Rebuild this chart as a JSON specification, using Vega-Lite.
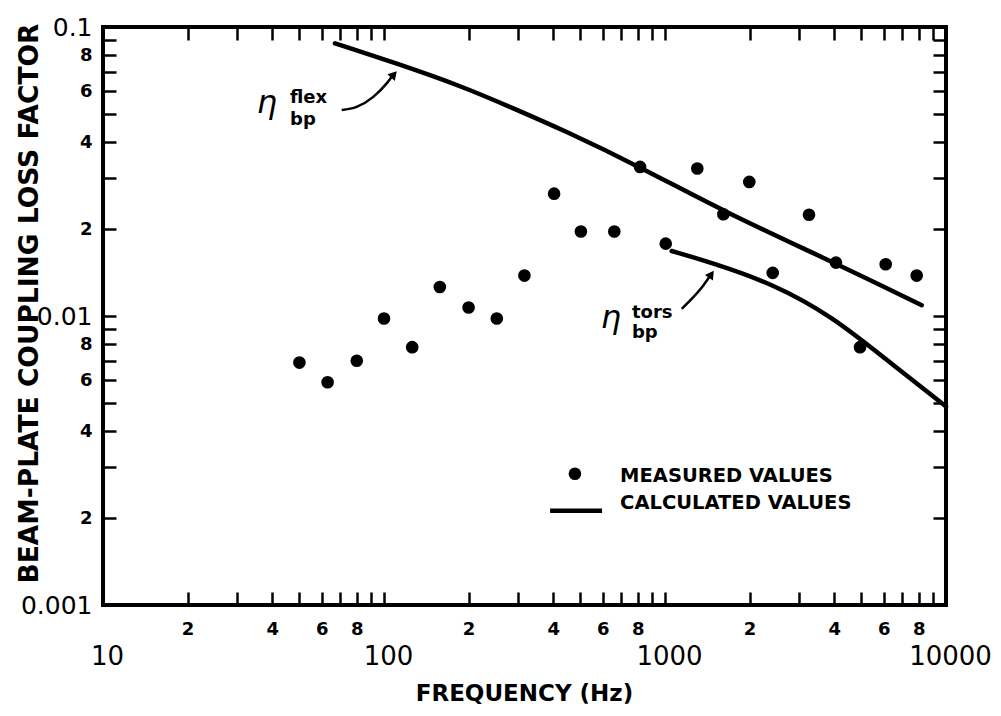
{
  "$schema": "https://vega.github.io/schema/vega-lite/v6.json",
  "width": 843,
  "height": 578,
  "autosize": "none",
  "padding": {"left": 103, "top": 27, "right": 55, "bottom": 111},
  "background": "white",
  "config": {
    "view": {"stroke": "black", "strokeWidth": 4},
    "font": "DejaVu Sans",
    "axis": {"grid": false, "domain": false, "tickColor": "black", "labelColor": "black", "titleColor": "black"}
  },
  "datasets": {
    "pts": [
      {"f": 50, "v": 0.0069}, {"f": 63, "v": 0.0059}, {"f": 80, "v": 0.0070}, {"f": 100, "v": 0.0098},
      {"f": 126, "v": 0.0078}, {"f": 158, "v": 0.0126}, {"f": 200, "v": 0.0107}, {"f": 252, "v": 0.0098},
      {"f": 316, "v": 0.0138}, {"f": 403, "v": 0.0265}, {"f": 502, "v": 0.0196}, {"f": 660, "v": 0.0196},
      {"f": 815, "v": 0.0328}, {"f": 1006, "v": 0.0178}, {"f": 1303, "v": 0.0324}, {"f": 1613, "v": 0.0225},
      {"f": 1995, "v": 0.0291}, {"f": 2417, "v": 0.0141}, {"f": 3254, "v": 0.0224}, {"f": 4059, "v": 0.0153},
      {"f": 4943, "v": 0.0078}, {"f": 6101, "v": 0.0151}, {"f": 7865, "v": 0.0138}
    ],
    "curves": [
      {"c": "flex", "f": 66.9, "v": 0.0878}, {"c": "flex", "f": 111, "v": 0.0748}, {"c": "flex", "f": 191.5, "v": 0.0621},
      {"c": "flex", "f": 288.5, "v": 0.0523}, {"c": "flex", "f": 434.6, "v": 0.0440}, {"c": "flex", "f": 815, "v": 0.0328},
      {"c": "flex", "f": 1613, "v": 0.0230}, {"c": "flex", "f": 4059, "v": 0.0152}, {"c": "flex", "f": 8195, "v": 0.0109},
      {"c": "tors", "f": 1056, "v": 0.01678}, {"c": "tors", "f": 1446, "v": 0.01536}, {"c": "tors", "f": 2429, "v": 0.01293},
      {"c": "tors", "f": 3972, "v": 0.0099}, {"c": "tors", "f": 5983, "v": 0.0072}, {"c": "tors", "f": 10000, "v": 0.00486}
    ],
    "arrows": [
      {"a": "flex", "f": 70.7, "v": 0.0516}, {"a": "flex", "f": 79.9, "v": 0.0529}, {"a": "flex", "f": 91.6, "v": 0.0573},
      {"a": "flex", "f": 102.2, "v": 0.0638}, {"a": "flex", "f": 108, "v": 0.0685},
      {"a": "tors", "f": 1147, "v": 0.01059}, {"a": "tors", "f": 1261, "v": 0.01162}, {"a": "tors", "f": 1369, "v": 0.01276},
      {"a": "tors", "f": 1450, "v": 0.0138}
    ],
    "heads": [
      {"a": "flex", "f": 108.5, "v": 0.0685},
      {"a": "tors", "f": 1462, "v": 0.01395}
    ],
    "eta": [
      {"f": 38.3, "v": 0.0503, "t": "η"},
      {"f": 642, "v": 0.00912, "t": "η"}
    ],
    "scripts": [
      {"f": 46.3, "v": 0.0545, "t": "flex"},
      {"f": 46.3, "v": 0.0457, "t": "bp"},
      {"f": 763, "v": 0.00988, "t": "tors"},
      {"f": 763, "v": 0.00842, "t": "bp"}
    ],
    "legdot": [{"f": 478, "v": 0.002845}],
    "legline": [{"f": 390, "v": 0.002117}, {"f": 597, "v": 0.002117}],
    "legtext": [
      {"f": 692, "v": 0.0028, "t": "MEASURED VALUES"},
      {"f": 692, "v": 0.002257, "t": "CALCULATED VALUES"}
    ]
  },
  "encoding": {
    "x": {"field": "f", "type": "quantitative", "scale": {"type": "log", "domain": [10, 10000], "nice": false}, "axis": null},
    "y": {"field": "v", "type": "quantitative", "scale": {"type": "log", "domain": [0.001, 0.1], "nice": false}, "axis": null}
  },
  "resolve": {"axis": {"x": "independent", "y": "independent"}},
  "layer": [
    {
      "data": {"name": "pts"},
      "mark": {"type": "point", "filled": true, "shape": "circle", "size": 160, "color": "black", "opacity": 1},
      "encoding": {
        "x": {
          "field": "f", "type": "quantitative",
          "scale": {"type": "log", "domain": [10, 10000], "nice": false},
          "axis": {
            "orient": "bottom",
            "values": [10, 20, 30, 40, 50, 60, 70, 80, 90, 100, 200, 300, 400, 500, 600, 700, 800, 900, 1000, 2000, 3000, 4000, 5000, 6000, 7000, 8000, 9000, 10000],
            "labelExpr": "indexof([10,100,1000,10000], datum.value) >= 0 ? format(datum.value, 'd') : (indexof([20,40,60,80,200,400,600,800,2000,4000,6000,8000], datum.value) >= 0 ? substring(format(datum.value, 'd'), 0, 1) : '')",
            "labelFontSize": {"condition": {"test": "indexof([10,100,1000,10000], datum.value) >= 0", "value": 26}, "value": 18},
            "labelFontWeight": {"condition": {"test": "indexof([10,100,1000,10000], datum.value) >= 0", "value": "normal"}, "value": "bold"},
            "labelPadding": {"condition": {"test": "indexof([10,100,1000,10000], datum.value) >= 0", "value": 51}, "value": 28},
            "labelOffset": {"condition": {"test": "indexof([10,100,1000,10000], datum.value) >= 0", "value": 4}, "value": 0},
            "labelBaseline": "top",
            "labelOverlap": false,
            "labelFlush": false,
            "labelBound": false,
            "tickSize": -13,
            "tickWidth": 2.5,
            "title": "FREQUENCY (Hz)",
            "titleFontSize": 23,
            "titleFontWeight": "bold",
            "titleX": 421,
            "titleY": 95,
            "titleAlign": "center",
            "titleBaseline": "alphabetic"
          }
        },
        "y": {
          "field": "v", "type": "quantitative",
          "scale": {"type": "log", "domain": [0.001, 0.1], "nice": false},
          "axis": {
            "orient": "left",
            "values": [0.001, 0.002, 0.003, 0.004, 0.005, 0.006, 0.007, 0.008, 0.009, 0.01, 0.02, 0.03, 0.04, 0.05, 0.06, 0.07, 0.08, 0.09, 0.1],
            "labelExpr": "datum.value == 0.1 ? '0.1' : (datum.value == 0.01 ? '0.01' : (datum.value == 0.001 ? '0.001' : (indexof([0.002,0.004,0.006,0.008,0.02,0.04,0.06,0.08], datum.value) >= 0 ? toString(round(datum.value / pow(10, floor(log(datum.value) / LN10 + 0.000001)))) : '')))",
            "labelFontSize": {"condition": {"test": "indexof([0.001,0.01,0.1], datum.value) >= 0", "value": 25}, "value": 18},
            "labelFontWeight": {"condition": {"test": "indexof([0.001,0.01,0.1], datum.value) >= 0", "value": "normal"}, "value": "bold"},
            "labelPadding": 24,
            "labelOverlap": false,
            "labelFlush": false,
            "labelBound": false,
            "tickSize": -13,
            "tickWidth": 2.5,
            "title": "BEAM-PLATE COUPLING LOSS FACTOR",
            "titleFontSize": 26.5,
            "titleFontWeight": "bold",
            "titleX": -66,
            "titleY": 276,
            "titleAngle": 270,
            "titleAlign": "center",
            "titleBaseline": "alphabetic"
          }
        }
      }
    },
    {
      "data": {"name": "curves"},
      "mark": {"type": "line", "color": "black", "strokeWidth": 4.5, "interpolate": "basis", "strokeCap": "round"},
      "encoding": {
        "x": {
          "field": "f", "type": "quantitative",
          "scale": {"type": "log", "domain": [10, 10000], "nice": false},
          "axis": {
            "orient": "top",
            "values": [10, 20, 30, 40, 50, 60, 70, 80, 90, 100, 200, 300, 400, 500, 600, 700, 800, 900, 1000, 2000, 3000, 4000, 5000, 6000, 7000, 8000, 9000, 10000],
            "labels": false, "tickSize": -13, "tickWidth": 2.5, "title": null
          }
        },
        "y": {
          "field": "v", "type": "quantitative",
          "scale": {"type": "log", "domain": [0.001, 0.1], "nice": false},
          "axis": {
            "orient": "right",
            "values": [0.001, 0.002, 0.003, 0.004, 0.005, 0.006, 0.007, 0.008, 0.009, 0.01, 0.02, 0.03, 0.04, 0.05, 0.06, 0.07, 0.08, 0.09, 0.1],
            "labels": false, "tickSize": -13, "tickWidth": 2.5, "title": null
          }
        },
        "detail": {"field": "c", "type": "nominal"}
      }
    },
    {
      "data": {"name": "arrows"},
      "mark": {"type": "line", "color": "black", "strokeWidth": 2.5, "interpolate": "monotone"},
      "encoding": {"detail": {"field": "a", "type": "nominal"}}
    },
    {
      "data": {"name": "heads"},
      "transform": [{"filter": "datum.a == 'flex'"}],
      "mark": {"type": "point", "shape": "triangle-up", "filled": true, "size": 95, "angle": 42, "color": "black", "opacity": 1}
    },
    {
      "data": {"name": "heads"},
      "transform": [{"filter": "datum.a == 'tors'"}],
      "mark": {"type": "point", "shape": "triangle-up", "filled": true, "size": 95, "angle": 35, "color": "black", "opacity": 1}
    },
    {
      "data": {"name": "eta"},
      "mark": {"type": "text", "fontSize": 32, "fontStyle": "italic", "align": "center", "baseline": "alphabetic", "color": "black", "font": "DejaVu Sans"},
      "encoding": {"text": {"field": "t"}}
    },
    {
      "data": {"name": "scripts"},
      "mark": {"type": "text", "fontSize": 18, "fontWeight": "bold", "align": "left", "baseline": "alphabetic", "color": "black"},
      "encoding": {"text": {"field": "t"}}
    },
    {
      "data": {"name": "legdot"},
      "mark": {"type": "point", "filled": true, "shape": "circle", "size": 160, "color": "black", "opacity": 1}
    },
    {
      "data": {"name": "legline"},
      "mark": {"type": "line", "color": "black", "strokeWidth": 4.5},
      "encoding": {}
    },
    {
      "data": {"name": "legtext"},
      "mark": {"type": "text", "fontSize": 19.5, "fontWeight": "bold", "align": "left", "baseline": "middle", "color": "black"},
      "encoding": {"text": {"field": "t"}}
    }
  ]
}
